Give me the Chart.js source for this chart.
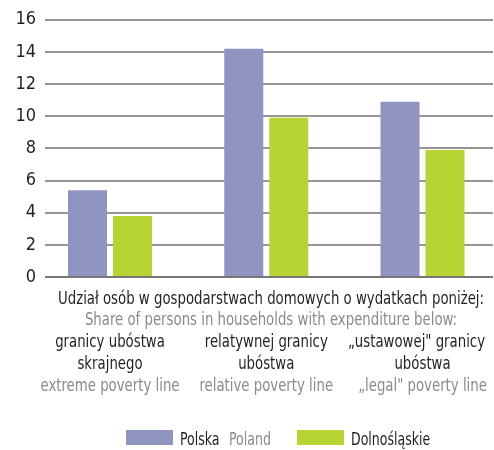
<!DOCTYPE html>
<html>
<head>
<meta charset="utf-8">
<script src="https://cdn.jsdelivr.net/npm/chart.js@4/dist/chart.umd.min.js"></script>
<style>
  html, body { margin: 0; padding: 0; background: #fff; }
  #wrap { width: 494px; height: 450px; }
</style>
</head>
<body>
<div id="wrap"><canvas id="povertyChart"></canvas></div>
<script>
const headerPl = 'Udział osób w gospodarstwach domowych o wydatkach poniżej:';
const headerEn = 'Share of persons in households with expenditure below:';
const categoriesPl = [['granicy ubóstwa', 'skrajnego'], ['relatywnej granicy', 'ubóstwa'], ['„ustawowej" granicy', 'ubóstwa']];
const categoriesEn = ['extreme poverty line', 'relative poverty line', '„legal" poverty line'];
const polska = [5.4, 14.2, 10.9];
const dolnoslaskie = [3.8, 9.9, 7.9];
const yTicks = [0, 2, 4, 6, 8, 10, 12, 14, 16];

const FONT = "'Liberation Sans Narrow', 'DejaVu Sans Condensed', 'Roboto', sans-serif";
const DARK = '#231f20';
const GREY = '#8a8a8a';
const PURPLE = '#8f94c1';
const GREEN = '#b6d434';

Chart.defaults.font.family = FONT;

// no condensed face installed, so squeeze the text sideways to the reference width
let squeeze = 1;
function drawText(ctx, text, x, y) {
    ctx.save();
    ctx.translate(x, y);
    ctx.scale(squeeze, 1);
    ctx.fillText(text, 0, 0);
    ctx.restore();
}

// labels under the axis and the legend, two colours per line so drawn by hand
const textPlugin = {
    id: 'povertyText',
    afterDraw(chart) {
        const ctx = chart.ctx;
        const x = chart.scales.x;
        ctx.save();
        ctx.textBaseline = 'alphabetic';
        ctx.textAlign = 'center';
        ctx.font = '18px ' + FONT;
        squeeze = Math.min(1, 426 / ctx.measureText(headerPl).width);
        const mid = 271;
        ctx.fillStyle = DARK;
        drawText(ctx, headerPl, mid, 304);
        ctx.fillStyle = GREY;
        drawText(ctx, headerEn, mid, 325);

        categoriesPl.forEach((lines, i) => {
            const cx = x.getPixelForValue(i);
            ctx.fillStyle = DARK;
            lines.forEach((line, j) => {
                const half = ctx.measureText(line).width * squeeze / 2;
                drawText(ctx, line, Math.min(cx, 485 - half), 347 + j * 22);
            });
            ctx.fillStyle = GREY;
            drawText(ctx, categoriesEn[i], cx, 391);
        });

        // legend
        ctx.textAlign = 'left';
        ctx.font = '17px ' + FONT;
        ctx.fillStyle = PURPLE;
        ctx.fillRect(126, 430, 47, 15);
        ctx.fillStyle = DARK;
        drawText(ctx, 'Polska', 180, 445);
        ctx.fillStyle = GREY;
        drawText(ctx, 'Poland', 229, 445);
        ctx.fillStyle = GREEN;
        ctx.fillRect(297, 430, 47, 15);
        ctx.fillStyle = DARK;
        drawText(ctx, 'Dolnośląskie', 351, 445);
        ctx.restore();
    }
};

const ctx = document.getElementById('povertyChart').getContext('2d');
const povertyChart = new Chart(ctx, {
    type: 'bar',
    data: {
        datasets: [{
            label: 'Polska',
            data: polska.map((v, i) => ({ x: i, y: v })),
            backgroundColor: PURPLE,
        }, {
            label: 'Dolnośląskie',
            data: dolnoslaskie.map((v, i) => ({ x: i, y: v })),
            backgroundColor: GREEN,
        }]
    },
    options: {
        responsive: true,
        maintainAspectRatio: false,
        animation: false,
        categoryPercentage: 0.576,
        barPercentage: 0.867,
        layout: {
            padding: { top: 18, bottom: 173, left: 0, right: 1 }
        },
        plugins: {
            legend: { display: false },
            tooltip: { enabled: false }
        },
        scales: {
            x: {
                type: 'linear',
                display: false,
                offset: false,
                min: -0.416,
                max: 2.451,
                afterBuildTicks(scale) { scale.ticks = categoriesEn.map((c, i) => ({ value: i })); }
            },
            y: {
                min: 0,
                max: 16,
                afterFit(scale) { scale.width = 45; },
                afterBuildTicks(scale) { scale.ticks = yTicks.map(v => ({ value: v })); },
                border: { display: false },
                grid: {
                    drawTicks: false,
                    color: c => c.tick.value === 0 ? '#777' : '#959595',
                    lineWidth: 2
                },
                ticks: {
                    padding: 9,
                    color: '#231f20',
                    font: { size: 18 }
                }
            }
        }
    },
    plugins: [textPlugin]
});
</script>
</body>
</html>
